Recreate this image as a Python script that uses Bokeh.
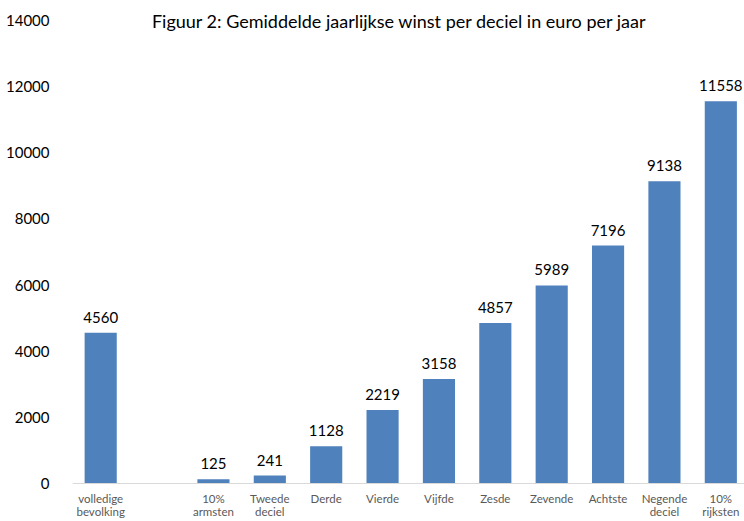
from bokeh.plotting import figure
from bokeh.models import Range1d, FixedTicker, ColumnDataSource, Label, LabelSet, Span
from bokeh.core.properties import value
from bokeh.embed import file_html
from bokeh.resources import INLINE

categories = ["volledige\nbevolking", "", "10%\narmsten", "Tweede\ndeciel", "Derde", "Vierde",
              "Vijfde", "Zesde", "Zevende", "Achtste", "Negende\ndeciel", "10%\nrijksten"]
values = [4560, None, 125, 241, 1128, 2219, 3158, 4857, 5989, 7196, 9138, 11558]
y_ticks = [0, 2000, 4000, 6000, 8000, 10000, 12000, 14000]
title_text = "Figuur 2: Gemiddelde jaarlijkse winst per deciel in euro per jaar"

FONT = "Lato"
idx = [i for i, v in enumerate(values) if v is not None]
src = ColumnDataSource(dict(
    x=idx,
    top=[values[i] for i in idx],
    lab=[str(values[i]) for i in idx],
))
line1 = [c.split("\n")[0] for c in categories]
line2 = [c.split("\n")[1] if "\n" in c else "" for c in categories]
cat_src = ColumnDataSource(dict(
    x=list(range(len(categories))),
    y=[0] * len(categories),
    l1=line1,
    l2=line2,
))

p = figure(width=744, height=521, output_backend="svg", toolbar_location=None,
           x_range=Range1d(-0.5, 11.42), y_range=Range1d(-1149, 14605),
           min_border_left=72, min_border_right=0, min_border_top=0, min_border_bottom=0)
p.outline_line_color = None
p.xgrid.grid_line_color = None
p.ygrid.grid_line_color = None
p.xaxis.visible = False

p.vbar(x="x", top="top", bottom=0, width=0.57, source=src, fill_color="#4F81BD", line_color=None)

p.add_layout(Span(location=0, dimension="width", line_color="#d9d9d9", line_width=1))

p.add_layout(LabelSet(x="x", y="top", text="lab", source=src, text_align="center",
                      text_baseline="bottom", y_offset=10, text_font=value(FONT),
                      text_font_size=value("15px"), text_color="#000000"))

for col, off in (("l1", -8), ("l2", -21.5)):
    p.add_layout(LabelSet(x="x", y="y", text=col, source=cat_src, text_align="center",
                          text_baseline="top", y_offset=off, text_font=value(FONT),
                          text_font_size=value("11.5px"), text_color="#595959"))

p.add_layout(Label(x=5.3, y=14000, text=title_text, text_align="center",
                   text_baseline="middle", text_font=FONT, text_font_size="18px",
                   text_color="#000000"))

p.yaxis.ticker = FixedTicker(ticks=y_ticks)
p.yaxis.axis_line_color = None
p.yaxis.major_tick_line_color = None
p.yaxis.minor_tick_line_color = None
p.yaxis.major_label_text_font = FONT
p.yaxis.major_label_text_font_size = "15px"
p.yaxis.major_label_text_color = "#000000"
p.yaxis.major_label_standoff = 17

open("out.html", "w").write(file_html(p, INLINE))
